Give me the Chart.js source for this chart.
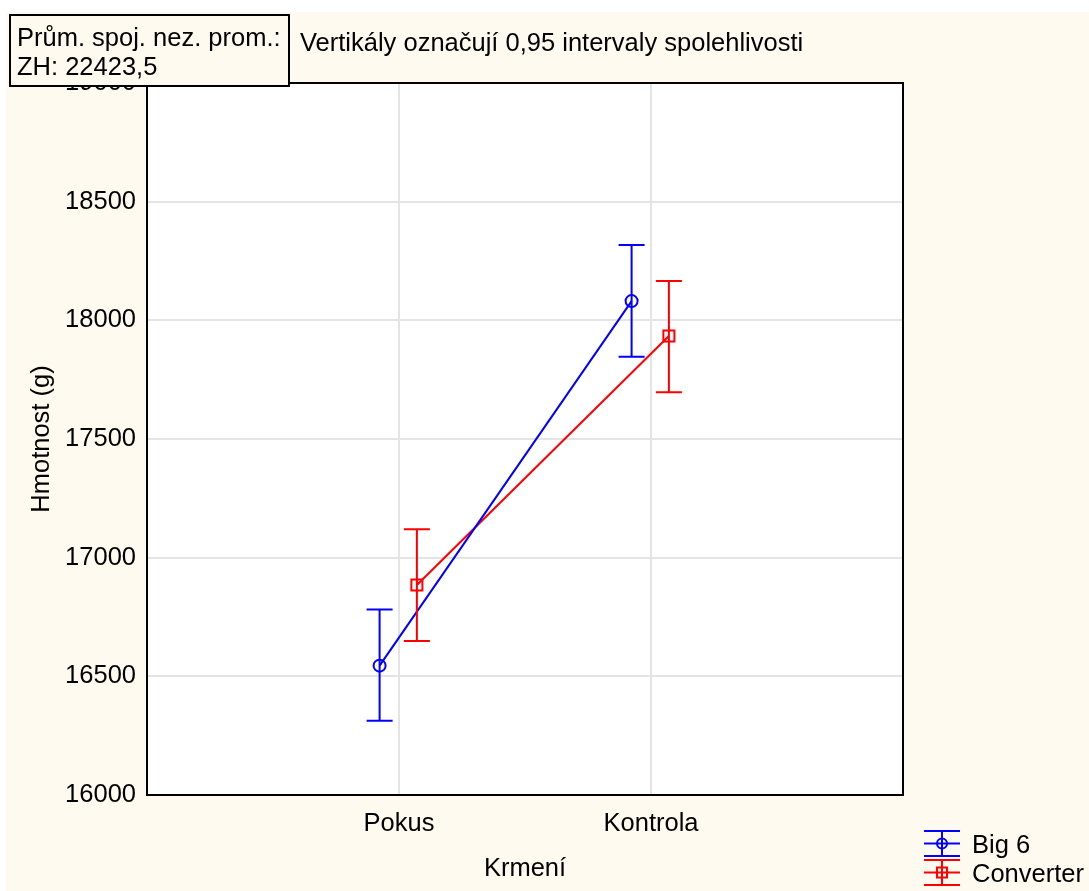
<!DOCTYPE html>
<html>
<head>
<meta charset="utf-8">
<script src="https://cdn.jsdelivr.net/npm/chart.js@4.4.1/dist/chart.umd.min.js"></script>
<style>
  html, body { margin: 0; padding: 0; background: #ffffff; }
  canvas { display: block; }
</style>
</head>
<body>
<canvas id="meansChart" width="1089" height="891"></canvas>
<script>
const categories = ['Pokus', 'Kontrola'];
const seriesNames = ['Big 6', 'Converter'];

const big6Mean = [16545, 18081];
const big6Low = [16313, 17847];
const big6High = [16782, 18317];

const convMean = [16885, 17934];
const convLow = [16649, 17697];
const convHigh = [17120, 18166];

const yTicks = [16000, 16500, 17000, 17500, 18000, 18500, 19000];

const FONT = '"Liberation Sans", Arial, sans-serif';
const FSIZE = 25.5;
const CREAM = '#fffaf0';

// small horizontal shift so the two series don't overlap at a category
const shifts = [-0.077, 0.071];

function toPoints(means, shift) {
  return means.map((v, i) => ({ x: i + 1 + shift, y: v }));
}

const errorBars = [
  { low: big6Low, high: big6High, color: '#0000ff', shift: shifts[0] },
  { low: convLow, high: convHigh, color: '#ff0000', shift: shifts[1] },
];

const backgroundPlugin = {
  id: 'cream',
  beforeDraw(chart) {
    const ctx = chart.ctx;
    ctx.save();
    ctx.fillStyle = CREAM;
    ctx.fillRect(6, 12, chart.width - 6, chart.height - 12);
    const a = chart.chartArea;
    ctx.fillStyle = '#ffffff';
    ctx.fillRect(a.left, a.top, a.right - a.left, a.bottom - a.top);
    ctx.restore();
  }
};

const errorBarPlugin = {
  id: 'errorBars',
  afterDatasetsDraw(chart) {
    const ctx = chart.ctx;
    const xs = chart.scales.x;
    const ys = chart.scales.y;
    ctx.save();
    ctx.lineWidth = 2;
    errorBars.forEach((eb) => {
      ctx.strokeStyle = eb.color;
      eb.low.forEach((lo, i) => {
        const x = xs.getPixelForValue(i + 1 + eb.shift);
        const y1 = ys.getPixelForValue(lo);
        const y2 = ys.getPixelForValue(eb.high[i]);
        ctx.beginPath();
        ctx.moveTo(x, y1);
        ctx.lineTo(x, y2);
        ctx.moveTo(x - 13, y1);
        ctx.lineTo(x + 13, y1);
        ctx.moveTo(x - 13, y2);
        ctx.lineTo(x + 13, y2);
        ctx.stroke();
      });
    });
    ctx.restore();
  }
};

const framePlugin = {
  id: 'frame',
  afterDraw(chart) {
    const ctx = chart.ctx;
    const a = chart.chartArea;
    ctx.save();
    // plot frame
    ctx.strokeStyle = '#000000';
    ctx.lineWidth = 2;
    ctx.strokeRect(a.left, a.top, a.right - a.left, a.bottom - a.top);

    // info box
    ctx.fillStyle = CREAM;
    ctx.fillRect(10, 15, 279, 71);
    ctx.strokeRect(10, 15, 279, 71);
    ctx.fillStyle = '#000000';
    ctx.font = FSIZE + 'px ' + FONT;
    ctx.textBaseline = 'middle';
    ctx.textAlign = 'left';
    ctx.fillText('Prům. spoj. nez. prom.:', 17, 39);
    ctx.fillText('ZH: 22423,5', 17, 68);
    ctx.fillText('Vertikály označují 0,95 intervaly spolehlivosti', 300, 44);

    // legend
    const items = [
      { name: seriesNames[0], color: '#0000ff', style: 'circle', y: 843.5 },
      { name: seriesNames[1], color: '#ff0000', style: 'rect', y: 872.5 },
    ];
    items.forEach((it) => {
      ctx.strokeStyle = it.color;
      ctx.lineWidth = 2;
      ctx.beginPath();
      ctx.moveTo(924, it.y - 12.5); ctx.lineTo(960, it.y - 12.5);
      ctx.moveTo(924, it.y); ctx.lineTo(960, it.y);
      ctx.moveTo(924, it.y + 12.5); ctx.lineTo(960, it.y + 12.5);
      ctx.moveTo(942, it.y - 12.5); ctx.lineTo(942, it.y + 12.5);
      ctx.stroke();
      ctx.beginPath();
      if (it.style === 'circle') {
        ctx.arc(942, it.y, 5, 0, Math.PI * 2);
      } else {
        ctx.rect(937, it.y - 5, 10, 10);
      }
      ctx.stroke();
      ctx.fillStyle = '#000000';
      ctx.fillText(it.name, 972, it.y + 2);
    });
    ctx.restore();
  }
};

const data = {
  datasets: [
    {
      label: seriesNames[0],
      data: toPoints(big6Mean, shifts[0]),
      borderColor: '#0000ff',
      backgroundColor: 'rgba(0,0,0,0)',
      borderWidth: 2,
      pointStyle: 'circle',
      pointRadius: 6,
      pointBorderWidth: 2,
      pointBorderColor: '#0000ff',
      pointBackgroundColor: 'rgba(0,0,0,0)',
      showLine: true,
    },
    {
      label: seriesNames[1],
      data: toPoints(convMean, shifts[1]),
      borderColor: '#ff0000',
      backgroundColor: 'rgba(0,0,0,0)',
      borderWidth: 2,
      pointStyle: 'rect',
      pointRadius: 7.8,
      pointBorderWidth: 2,
      pointBorderColor: '#ff0000',
      pointBackgroundColor: 'rgba(0,0,0,0)',
      showLine: true,
    },
  ],
};

const config = {
  type: 'scatter',
  data: data,
  options: {
    responsive: false,
    animation: false,
    events: [],
    layout: { padding: { top: 83, right: 186, left: 0, bottom: 0 } },
    plugins: {
      legend: { display: false },
      tooltip: { enabled: false },
    },
    scales: {
      x: {
        type: 'linear',
        min: 0,
        max: categories.length + 1,
        afterFit(scale) { scale.height = 96; },
        afterBuildTicks(scale) {
          scale.ticks = [0, 1, 2, 3].map((v) => ({ value: v }));
        },
        ticks: {
          autoSkip: false,
          maxRotation: 0,
          padding: 14,
          color: '#000000',
          font: { family: FONT, size: FSIZE },
          callback: (v) => categories[v - 1] || '',
        },
        grid: { color: '#e4e4e4', lineWidth: 2, drawTicks: false },
        border: { display: false },
        title: {
          display: true,
          text: 'Krmení',
          color: '#000000',
          font: { family: FONT, size: FSIZE },
          padding: { top: 0, bottom: 7 },
        },
      },
      y: {
        type: 'linear',
        min: yTicks[0],
        max: yTicks[yTicks.length - 1],
        afterFit(scale) { scale.width = 147; },
        afterBuildTicks(scale) {
          scale.ticks = yTicks.map((v) => ({ value: v }));
        },
        ticks: {
          padding: 11,
          color: '#000000',
          font: { family: FONT, size: FSIZE },
          callback: (v) => String(v),
        },
        grid: { color: '#e4e4e4', lineWidth: 2, drawTicks: false },
        border: { display: false },
        title: {
          display: true,
          text: 'Hmotnost (g)',
          color: '#000000',
          font: { family: FONT, size: FSIZE },
          padding: { top: 27, bottom: 0 },
        },
      },
    },
  },
  plugins: [backgroundPlugin, errorBarPlugin, framePlugin],
};

const ctx = document.getElementById('meansChart').getContext('2d');
const meansChart = new Chart(ctx, config);
</script>
</body>
</html>
